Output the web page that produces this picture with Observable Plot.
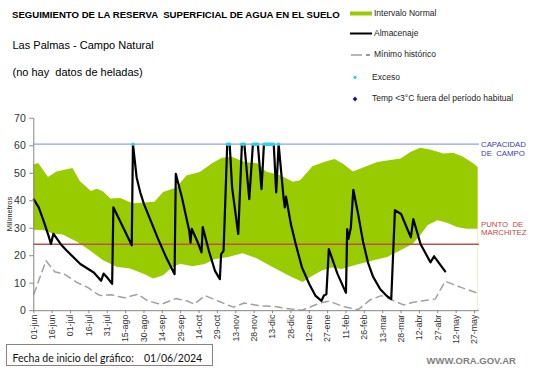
<!DOCTYPE html>
<html><head><meta charset="utf-8">
<script src="https://cdn.jsdelivr.net/npm/d3@7"></script>
<script src="https://cdn.jsdelivr.net/npm/@observablehq/plot@0.6"></script>
<style>
html,body{margin:0;padding:0;background:#fff;}
#wrap{position:relative;width:541px;height:368px;overflow:hidden;font-family:"Liberation Sans",Arial,sans-serif;color:#000;}
.t{position:absolute;white-space:pre;}
</style></head><body><div id="wrap"></div>
<script>
// ---- DATA (day = days since 01/06/2024) ----
const capacidadCampo = 60.6;
const puntoMarchitez = 24.2;
const yTicks = [0, 10, 20, 30, 40, 50, 60, 70];
const tickDates = ["2024-06-01","2024-06-16","2024-07-01","2024-07-16","2024-07-31","2024-08-15","2024-08-30","2024-09-14","2024-09-29","2024-10-14","2024-10-29","2024-11-13","2024-11-28","2024-12-13","2024-12-28","2025-01-12","2025-01-27","2025-02-11","2025-02-26","2025-03-13","2025-03-28","2025-04-12","2025-04-27","2025-05-12","2025-05-27"];
const tickLabels = ["01-jun","16-jun","01-jul","16-jul","31-jul","15-ago","30-ago","14-sep","29-sep","14-oct","29-oct","13-nov","28-nov","13-dic","28-dic","12-ene","27-ene","11-feb","26-feb","13-mar","28-mar","12-abr","27-abr","12-may","27-may"];

const normalUpper = [[0,53],[4,53.6],[12,48.5],[19,50.5],[32,51.7],[38,47],[47,43.4],[52,44.2],[57,43.2],[63,40.6],[71,40.8],[81,38.9],[91,39.2],[99,39.5],[106,43],[117,44.6],[125,49],[136,50.3],[146,53.5],[154,55.5],[162,55.8],[173,53.8],[183,53.5],[190,50.5],[202,49],[212,46.7],[218,47.3],[228,52.4],[238,54],[246,55],[253,53.3],[261,50.5],[269,51.8],[281,53.9],[289,54.5],[300,55.2],[308,57.6],[316,59.1],[324,58.5],[335,57],[343,57.3],[351,55.8],[359,53.6],[363,52.1]];
const normalLower = [[0,29.3],[8,29.2],[16,27.9],[24,27.5],[36,24.8],[46,21.8],[57,18.2],[68,15.8],[79,15.2],[90,13.3],[98,11.5],[106,12.7],[114,15.8],[120,16.9],[130,16],[140,16.8],[148,18.5],[159,19.4],[171,20.7],[182,19],[195,15.8],[209,12.5],[220,10.3],[228,12.5],[236,14.5],[244,15.5],[252,15],[263,16.4],[278,18.2],[289,19.4],[300,21.8],[310,24.2],[316,27.3],[322,30.9],[330,32.7],[338,31.8],[346,30.3],[354,29.6],[363,29.6]];
const almacenaje = [[0,40.5],[4,37.6],[8,32.7],[12,27.3],[14,24.3],[16,28],[22,24.2],[27,21.8],[38,17],[49,13.9],[55,10.9],[57,13.5],[61,11.5],[64,9.8],[65,37.6],[80,23.8],[81,60.6],[84,48.5],[87,43],[90,38.8],[101,26.7],[108,19.5],[115,13.3],[116,49.8],[121,41.2],[127,29],[128,24.8],[129,29.8],[134,24.8],[137,21.2],[138,30.4],[143,21.8],[148,14.5],[152,11.5],[153,20.6],[155,21.8],[157,47.3],[158,60.6],[160,60.6],[162,44.8],[167,27.9],[170,60.6],[172,60.6],[176,40.6],[179,60.6],[183,60.6],[186,44.2],[188,60.6],[196,60.6],[198,43],[200,60.6],[202,50.9],[204,41.2],[205,37.6],[206,41.5],[210,31.5],[214,24.2],[219,15.8],[225,9.7],[230,5.5],[235,3.6],[237,5.5],[239,6],[241,22.4],[248,13.5],[255,6.5],[256,29.7],[257,26.1],[259,30.3],[261,44],[265,35],[269,25],[273,17.5],[277,12.5],[283,7.8],[288,5.5],[292,4.2],[295,36.6],[300,35.2],[304,30.9],[308,26.7],[310,33.3],[316,24.2],[324,17.6],[327,19.8],[336,14.3]];
const minimoHistorico = [[0,6],[10,18.2],[17,14.2],[25,13.3],[35,10.3],[44,8.5],[52,6],[55,5.5],[63,5.8],[74,4.7],[85,6],[93,3.6],[104,2.3],[116,4.4],[125,3.6],[131,2.4],[140,5.5],[150,3.6],[163,1.3],[172,2.8],[184,1.8],[197,1.5],[210,0.6],[219,0.2],[225,1.2],[233,2.7],[241,3.5],[253,1.5],[265,0.4],[275,4],[284,5.5],[291,4.2],[302,2.1],[309,3],[328,4.3],[336,10.7],[349,8.5],[363,6.3]];
const excesoDays = [81,158,159,160,170,171,172,179,180,181,182,183,188,189,190,191,192,193,194,195,196,200];

// ---- helpers ----
const day = d => new Date(Date.UTC(2024, 5, 1 + d));
const rows = arr => arr.map(([d, v]) => ({date: day(d), v}));
const labelOf = new Map(tickDates.map((s, i) => [+new Date(s), tickLabels[i]]));

const svg = Plot.plot({
  width: 541, height: 368,
  marginLeft: 33.3, marginRight: 62.1, marginTop: 117.8, marginBottom: 57.8,
  x: {type: "utc", domain: [day(0), day(364)], label: null},
  y: {domain: [0, 70], label: null},
  style: {fontFamily: "'Liberation Sans', Arial, sans-serif", background: "none", overflow: "visible"},
  marks: [
    Plot.areaY(rows(normalUpper), {x: "date", y: "v", fill: "#99cc00"}),
    Plot.areaY(rows(normalLower), {x: "date", y: "v", fill: "#ffffff"}),
    Plot.ruleY([puntoMarchitez], {stroke: "#c0504d", strokeWidth: 1.5}),
    Plot.ruleY([capacidadCampo], {stroke: "#8ea6d8", strokeWidth: 1.2}),
    Plot.line(rows(minimoHistorico), {x: "date", y: "v", stroke: "#a0a0a0", strokeWidth: 1.5, strokeDasharray: "7,5"}),
    Plot.line(rows(almacenaje), {x: "date", y: "v", stroke: "#000", strokeWidth: 2.2, strokeLinejoin: "round"}),
    Plot.dot(excesoDays.map(d => ({date: day(d), v: capacidadCampo})), {x: "date", y: "v", r: 1.7, fill: "#33ccee", stroke: "none"}),
    Plot.ruleX([day(0)], {stroke: "#888"}),
    Plot.ruleY([0], {stroke: "#888"}),
    Plot.axisY({ticks: yTicks, tickSize: 4, tickPadding: 4, fontSize: 10.5, stroke: "#888", fill: "#333"}),
    Plot.axisX({ticks: tickDates.map(s => new Date(s)), tickFormat: d => labelOf.get(+d), tickRotate: -90, tickSize: 3, tickPadding: 1, fontSize: 8.8, stroke: "#888", fill: "#333"})
  ]
});
const wrap = document.getElementById("wrap");
svg.style.position = "absolute"; svg.style.left = "0px"; svg.style.top = "0px";
wrap.appendChild(svg);

function txt(s, x, cy, size, css = {}) {
  const d = document.createElement("div");
  d.className = "t";
  d.textContent = s;
  const lh = Math.round(size * 1.3);
  Object.assign(d.style, {left: x + "px", top: (cy - lh / 2) + "px", fontSize: size + "px", lineHeight: lh + "px"}, css);
  wrap.appendChild(d);
  return d;
}
txt("SEGUIMIENTO DE LA RESERVA  SUPERFICIAL DE AGUA EN EL SUELO", 12, 15, 9.6, {fontWeight: "bold"});
txt("Las Palmas - Campo Natural", 12.5, 45, 11);
txt("(no hay  datos de heladas)", 12.5, 71.5, 11);
// legend
const legendItems = ["Intervalo Normal", "Almacenaje", "Mínimo histórico", "Exceso", "Temp <3°C fuera del período habitual"];
const legendY = [13, 33.5, 54.5, 77, 98.5];
const legendX = [374, 374, 374, 372, 372];
legendItems.forEach((s, i) => txt(s, legendX[i], legendY[i], 8.5, {color: "#222"}));
const ns = "http://www.w3.org/2000/svg";
const lg = document.createElementNS(ns, "svg");
lg.setAttribute("width", 541); lg.setAttribute("height", 368);
Object.assign(lg.style, {position: "absolute", left: "0px", top: "0px", pointerEvents: "none"});
lg.innerHTML = `
<rect x="350" y="11.5" width="22" height="4" fill="#99cc00"/>
<line x1="350" x2="372" y1="33.5" y2="33.5" stroke="#000" stroke-width="2"/>
<line x1="351" x2="362" y1="55" y2="55" stroke="#a0a0a0" stroke-width="1.5"/>
<line x1="366" x2="370" y1="55" y2="55" stroke="#555" stroke-width="1.2"/>
<circle cx="355" cy="77.3" r="1.6" fill="#33ccee"/>
<path d="M355,96.5 L357.3,99 L355,101.5 L352.7,99 Z" fill="#1010a0"/>`;
wrap.appendChild(lg);
// right labels
txt("CAPACIDAD", 481, 144.5, 7.8, {color: "#3c3ca8"});
txt("DE  CAMPO", 481, 153.7, 7.8, {color: "#3c3ca8"});
txt("PUNTO  DE", 481, 225, 7.8, {color: "#c04848"});
txt("MARCHITEZ", 481, 233.3, 7.8, {color: "#c04848"});
// y label
const yl = txt("Milímetros", 10, 214, 7.5, {color: "#222"});
yl.style.transform = "translate(-50%,0) rotate(-90deg)";
yl.style.transformOrigin = "50% 50%";
// bottom box
const box = document.createElement("div");
Object.assign(box.style, {position: "absolute", left: "6px", top: "344px", width: "205px", height: "20px", border: "1px solid #8f7f7f"});
wrap.appendChild(box);
txt("Fecha de inicio del gráfico:", 12.5, 357.5, 10.5, {fontFamily: "Lato, sans-serif", color: "#111"});
txt("01/06/2024", 144, 357.5, 10.5, {fontFamily: "Lato, sans-serif", color: "#111"});
txt("WWW.ORA.GOV.AR", 426.5, 360.5, 9.5, {fontWeight: "bold", color: "#808080"});
</script></body></html>
